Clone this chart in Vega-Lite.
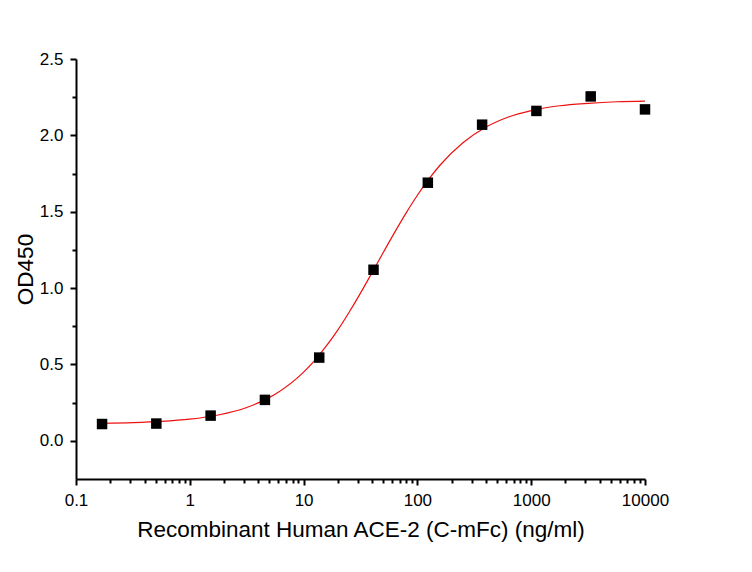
{
  "$schema": "https://vega.github.io/schema/vega-lite/v6.json",
  "width": 569,
  "height": 420,
  "autosize": {"type": "none"},
  "padding": {"left": 76, "top": 59, "right": 107, "bottom": 93},
  "background": "white",
  "config": {
    "view": {"stroke": null},
    "font": "Liberation Sans",
    "axis": {"grid": false, "domainColor": "black", "domainWidth": 2, "tickColor": "black", "tickWidth": 2, "labelColor": "black", "titleColor": "black", "labelFont": "Liberation Sans", "titleFont": "Liberation Sans", "labelFontSize": 17, "titleFontSize": 22.5, "titleFontWeight": "normal"}
  },
  "datasets": {
    "pts": [
      {"conc": 0.1694, "od": 0.11},
      {"conc": 0.508, "od": 0.113},
      {"conc": 1.524, "od": 0.165},
      {"conc": 4.572, "od": 0.268},
      {"conc": 13.72, "od": 0.545},
      {"conc": 41.15, "od": 1.12},
      {"conc": 123.5, "od": 1.69},
      {"conc": 370.4, "od": 2.07},
      {"conc": 1111, "od": 2.16},
      {"conc": 3333, "od": 2.255},
      {"conc": 10000, "od": 2.17}
    ],
    "fit": [
      {"conc": 0.17, "od": 0.1146},
      {"conc": 0.316, "od": 0.119},
      {"conc": 0.562, "od": 0.127},
      {"conc": 1, "od": 0.1417},
      {"conc": 1.778, "od": 0.169},
      {"conc": 3.162, "od": 0.218},
      {"conc": 5.623, "od": 0.305},
      {"conc": 10, "od": 0.45},
      {"conc": 12.59, "od": 0.529},
      {"conc": 15.85, "od": 0.621},
      {"conc": 19.95, "od": 0.725},
      {"conc": 25.12, "od": 0.842},
      {"conc": 31.62, "od": 0.967},
      {"conc": 39.81, "od": 1.099},
      {"conc": 50.12, "od": 1.233},
      {"conc": 63.1, "od": 1.365},
      {"conc": 79.43, "od": 1.491},
      {"conc": 100, "od": 1.608},
      {"conc": 125.9, "od": 1.713},
      {"conc": 158.5, "od": 1.806},
      {"conc": 251.2, "od": 1.952},
      {"conc": 398.1, "od": 2.053},
      {"conc": 631, "od": 2.12},
      {"conc": 1000, "od": 2.162},
      {"conc": 1778, "od": 2.194},
      {"conc": 3162, "od": 2.21},
      {"conc": 5623, "od": 2.22},
      {"conc": 10000, "od": 2.224}
    ]
  },
  "encoding": {
    "x": {
      "field": "conc", "type": "quantitative",
      "scale": {"type": "log", "domain": [0.1, 10000], "nice": false},
      "axis": {
        "title": "Recombinant Human ACE-2 (C-mFc) (ng/ml)",
        "values": [0.1,0.2,0.3,0.4,0.5,0.6,0.7,0.8,0.9,1,2,3,4,5,6,7,8,9,10,20,30,40,50,60,70,80,90,100,200,300,400,500,600,700,800,900,1000,2000,3000,4000,5000,6000,7000,8000,9000,10000],
        "labelExpr": "indexof([0.1,1,10,100,1000,10000], datum.value) >= 0 ? (datum.value == 0.1 ? '0.1' : format(datum.value, 'd')) : ''",
        "tickSize": {"condition": {"test": "indexof([0.1,1,10,100,1000,10000], datum.value) >= 0", "value": 6}, "value": 4},
        "labelPadding": 7,
        "titlePadding": 10,
        "labelFlush": false,
        "labelOverlap": false
      }
    },
    "y": {
      "field": "od", "type": "quantitative",
      "scale": {"domain": [-0.25, 2.5], "nice": false, "zero": false},
      "axis": {
        "title": "OD450",
        "values": [0, 0.25, 0.5, 0.75, 1, 1.25, 1.5, 1.75, 2, 2.25, 2.5],
        "labelExpr": "indexof([0,0.5,1,1.5,2,2.5], datum.value) >= 0 ? format(datum.value, '.1f') : ''",
        "tickSize": {"condition": {"test": "indexof([0,0.5,1,1.5,2,2.5], datum.value) >= 0", "value": 6}, "value": 4},
        "labelPadding": 7,
        "titlePadding": 2,
        "labelOverlap": false
      }
    }
  },
  "layer": [
    {
      "data": {"name": "fit"},
      "mark": {"type": "line", "color": "#ee1111", "strokeWidth": 1.2, "interpolate": "monotone"}
    },
    {
      "data": {"name": "pts"},
      "mark": {"type": "square", "color": "black", "opacity": 1, "size": 110, "filled": true}
    }
  ]
}
